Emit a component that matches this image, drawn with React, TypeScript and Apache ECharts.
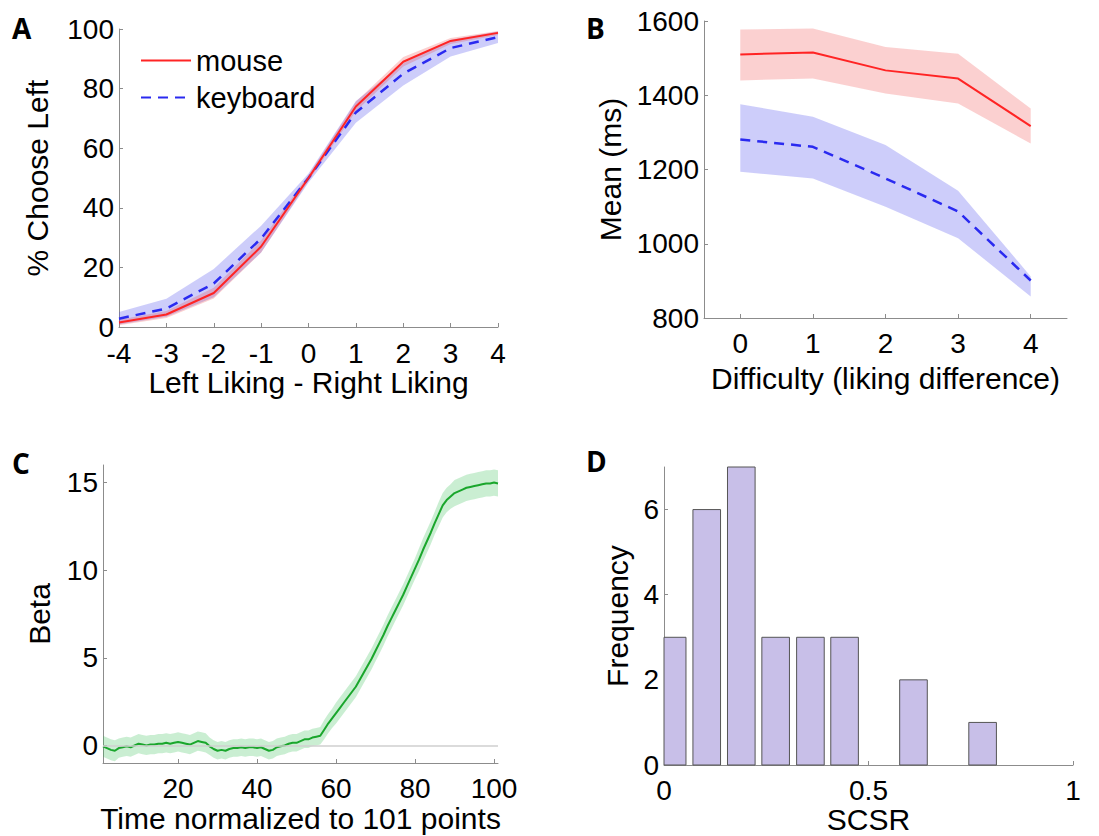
import React, { useEffect, useRef } from "react";
import * as echarts from "echarts";

// ---------- Panel A: choice curves ----------
const likingDiff = [-4, -3, -2, -1, 0, 1, 2, 3, 4];
const mouseChoice = [1.5, 4.2, 11.4, 27, 50, 74, 89, 96, 98.7];
const mouseChoiceLo = [0.6, 3.0, 9.6, 25, 49, 72.4, 87.4, 95, 98.0];
const mouseChoiceHi = [2.4, 5.4, 13.2, 29, 51, 75.6, 90.6, 97, 99.3];
const keyboardChoice = [2.8, 6.2, 14.6, 29.7, 50, 72, 85, 93.6, 97.3];
const keyboardChoiceLo = [0.8, 3.4, 10, 25, 48.5, 68.5, 81, 90.8, 95.3];
const keyboardChoiceHi = [5, 9.5, 19.5, 34, 51.5, 75.8, 88.5, 96.4, 99.2];

// ---------- Panel B: mean RT ----------
const difficulty = [0, 1, 2, 3, 4];
const mouseRT = [1510, 1515, 1467, 1445, 1317];
const mouseRTLo = [1440, 1445, 1405, 1378, 1270];
const mouseRTHi = [1577, 1580, 1530, 1512, 1364];
const keyboardRT = [1281, 1261, 1176, 1087, 901];
const keyboardRTLo = [1194, 1176, 1100, 1015, 858];
const keyboardRTHi = [1376, 1342, 1266, 1143, 912];

// ---------- Panel C: beta over normalized time ----------
const timePoints = Array.from({ length: 101 }, (_, i) => i + 1);
const betaMean = [
  -0.05, -0.15, -0.25, -0.3, -0.15, -0.1, -0.05, -0.1, 0.0, 0.1,
  0.05, 0.0, 0.05, 0.05, 0.1, 0.1, 0.15, 0.1, 0.15, 0.2,
  0.15, 0.1, 0.05, 0.15, 0.25, 0.2, 0.15, -0.05, -0.2, -0.3,
  -0.25, -0.3, -0.2, -0.15, -0.15, -0.1, -0.15, -0.1, -0.1, -0.15,
  -0.1, -0.2, -0.3, -0.25, -0.1, -0.05, 0.0, 0.1, 0.15, 0.15,
  0.25, 0.35, 0.35, 0.45, 0.5, 0.55, 0.9, 1.25, 1.55, 1.85,
  2.15, 2.45, 2.75, 3.05, 3.35, 3.75, 4.15, 4.55, 4.95, 5.4,
  5.85, 6.3, 6.8, 7.25, 7.7, 8.15, 8.6, 9.1, 9.6, 10.1,
  10.6, 11.15, 11.65, 12.15, 12.7, 13.2, 13.7, 14.0, 14.2, 14.4,
  14.5, 14.6, 14.7, 14.75, 14.8, 14.85, 14.9, 14.95, 14.95, 15.0,
  14.95,
];
const betaHalfWidth = [
  0.6, 0.6, 0.6, 0.6, 0.55, 0.55, 0.55, 0.55, 0.55, 0.55,
  0.55, 0.55, 0.55, 0.55, 0.55, 0.55, 0.55, 0.55, 0.55, 0.55,
  0.55, 0.55, 0.55, 0.55, 0.55, 0.55, 0.55, 0.5, 0.5, 0.5,
  0.5, 0.5, 0.5, 0.5, 0.5, 0.5, 0.5, 0.5, 0.5, 0.5,
  0.5, 0.5, 0.5, 0.5, 0.5, 0.5, 0.5, 0.5, 0.5, 0.5,
  0.5, 0.5, 0.5, 0.5, 0.5, 0.5, 0.55, 0.55, 0.55, 0.6,
  0.6, 0.6, 0.6, 0.6, 0.6, 0.6, 0.6, 0.6, 0.6, 0.6,
  0.6, 0.6, 0.6, 0.6, 0.6, 0.6, 0.6, 0.6, 0.6, 0.6,
  0.65, 0.65, 0.65, 0.65, 0.65, 0.7, 0.7, 0.7, 0.7, 0.75,
  0.75, 0.75, 0.75, 0.75, 0.75, 0.75, 0.75, 0.75, 0.75, 0.75,
  0.75,
];

// ---------- Panel D: SCSR histogram ----------
const scsrBinCenters = [0.02, 0.1045, 0.189, 0.273, 0.358, 0.4415, 0.526, 0.61, 0.695, 0.779];
const scsrCounts = [3, 6, 7, 3, 3, 3, 0, 2, 0, 1];
const BAR_WIDTH = 0.0675;

const FONT = '"Liberation Sans", Arial, Helvetica, sans-serif';
const AXIS_GRAY = "#8c8c8c";
const TICK_FS = 28;
const NAME_FS = 30;

function axisBase(extra: any) {
  return {
    type: "value",
    splitLine: { show: false },
    axisLine: { show: true, onZero: false, lineStyle: { color: AXIS_GRAY, width: 1 } },
    axisTick: { show: true, inside: true, length: 4, lineStyle: { color: AXIS_GRAY } },
    axisLabel: { color: "#000", fontSize: TICK_FS, fontFamily: FONT },
    nameLocation: "middle",
    nameTextStyle: { color: "#000", fontSize: NAME_FS, fontFamily: FONT },
    ...extra,
  };
}

function tickStyle(custom?: number[]) {
  const t: any = { show: true, inside: true, length: 4, lineStyle: { color: AXIS_GRAY } };
  if (custom) t.customValues = custom;
  return t;
}
function labelStyle(margin: number, custom?: number[]) {
  const l: any = {
    color: "#000",
    fontSize: TICK_FS,
    lineHeight: 22,
    fontFamily: FONT,
    margin,
    formatter: (v: number) => String(v),
  };
  if (custom) l.customValues = custom;
  return l;
}

function bandSeries(name: string, xs: number[], lo: number[], hi: number[], color: string, axis: number) {
  return {
    type: "custom",
    name,
    xAxisIndex: axis,
    yAxisIndex: axis,
    silent: true,
    data: xs.map((x, i) => [x, lo[i], hi[i]]),
    encode: { x: 0, y: [1, 2] },
    renderItem: (params: any, api: any) => {
      if (params.dataIndexInside !== 0) return null;
      const n = params.dataInsideLength;
      const top: number[][] = [];
      const bottom: number[][] = [];
      for (let i = 0; i < n; i++) {
        const x = api.value(0, i);
        top.push(api.coord([x, api.value(2, i)]));
        bottom.push(api.coord([x, api.value(1, i)]));
      }
      return {
        type: "polygon",
        shape: { points: top.concat(bottom.reverse()) },
        style: { fill: color },
      };
    },
  };
}

function lineSeries(name: string, xs: number[], ys: number[], color: string, axis: number, dashed: boolean, width = 2) {
  return {
    type: "line",
    name,
    xAxisIndex: axis,
    yAxisIndex: axis,
    data: xs.map((x, i) => [x, ys[i]]),
    symbol: "none",
    showSymbol: false,
    lineStyle: { color, width, type: dashed ? [10, 7] : "solid" },
    itemStyle: { color },
  };
}

const RED = "#ff2424";
const BLUE = "#2a2af0";
const RED_BAND = "rgba(240,60,60,0.24)";
const BLUE_BAND = "rgba(70,70,235,0.27)";
const GREEN = "#1aa62c";
const GREEN_BAND = "rgba(50,190,80,0.26)";

export default function App() {
  const ref = useRef<HTMLDivElement>(null);

  useEffect(() => {
    document.body.style.margin = "0";
    const chart = echarts.init(ref.current!, null, { renderer: "svg" });

    const betaLo = betaMean.map((m, i) => m - betaHalfWidth[i]);
    const betaHi = betaMean.map((m, i) => m + betaHalfWidth[i]);

    const option: any = {
      animation: false,
      backgroundColor: "#fff",
      textStyle: { fontFamily: FONT },
      grid: [
        { left: 119, top: 29, width: 379, height: 298 },
        { left: 704, top: 21, width: 363, height: 297 },
        { left: 103, top: 465, width: 395, height: 298 },
        { left: 664, top: 467, width: 409, height: 298 },
      ],
      xAxis: [
        axisBase({ gridIndex: 0, min: -4, max: 4, interval: 1, name: "Left Liking - Right Liking", nameGap: 40, axisTick: tickStyle(), axisLabel: labelStyle(15) }),
        axisBase({ gridIndex: 1, min: -0.5, max: 4.5, name: "Difficulty (liking difference)", nameGap: 45, axisTick: tickStyle(difficulty), axisLabel: labelStyle(14, difficulty) }),
        axisBase({ gridIndex: 2, min: 1, max: 101, name: "Time normalized to 101 points", nameGap: 40, axisTick: tickStyle([20, 40, 60, 80, 100]), axisLabel: labelStyle(14, [20, 40, 60, 80, 100]) }),
        axisBase({ gridIndex: 3, min: 0, max: 1, name: "SCSR", nameGap: 38, axisTick: tickStyle([0, 0.5, 1]), axisLabel: labelStyle(14, [0, 0.5, 1]) }),
      ],
      yAxis: [
        axisBase({ gridIndex: 0, min: 0, max: 100, interval: 20, name: "% Choose Left", nameGap: 67, axisTick: tickStyle(), axisLabel: labelStyle(5) }),
        axisBase({ gridIndex: 1, min: 800, max: 1600, interval: 200, name: "Mean (ms)", nameGap: 79, axisTick: tickStyle(), axisLabel: labelStyle(5) }),
        axisBase({ gridIndex: 2, min: -1, max: 16, name: "Beta", nameGap: 49, axisTick: tickStyle([0, 5, 10, 15]), axisLabel: labelStyle(5, [0, 5, 10, 15]) }),
        axisBase({ gridIndex: 3, min: 0, max: 7, name: "Frequency", nameGap: 32, axisTick: tickStyle([0, 2, 4, 6]), axisLabel: labelStyle(5, [0, 2, 4, 6]) }),
      ],
      legend: {
        data: ["mouse", "keyboard"],
        orient: "vertical",
        left: 135,
        top: 41,
        itemWidth: 50,
        itemHeight: 14,
        itemGap: 8,
        itemStyle: { opacity: 0 },
        textStyle: { color: "#000", fontSize: 29, fontFamily: FONT },
      },
      graphic: [
        { type: "text", left: 12, top: 14, style: { text: "A", font: 'bold 28px "Open Sans", sans-serif', fill: "#000" } },
        { type: "text", left: 586, top: 14, style: { text: "B", font: 'bold 28px "Open Sans", sans-serif', fill: "#000" } },
        { type: "text", left: 12, top: 449, style: { text: "C", font: 'bold 28px "Open Sans", sans-serif', fill: "#000" } },
        { type: "text", left: 586, top: 447, style: { text: "D", font: 'bold 28px "Open Sans", sans-serif', fill: "#000" } },
      ],
      series: [
        // A
        bandSeries("keyboard band", likingDiff, keyboardChoiceLo, keyboardChoiceHi, BLUE_BAND, 0),
        bandSeries("mouse band", likingDiff, mouseChoiceLo, mouseChoiceHi, RED_BAND, 0),
        lineSeries("keyboard", likingDiff, keyboardChoice, BLUE, 0, true, 2.5),
        lineSeries("mouse", likingDiff, mouseChoice, RED, 0, false, 2),
        // B
        bandSeries("mouse RT band", difficulty, mouseRTLo, mouseRTHi, RED_BAND, 1),
        bandSeries("keyboard RT band", difficulty, keyboardRTLo, keyboardRTHi, BLUE_BAND, 1),
        lineSeries("mouse RT", difficulty, mouseRT, RED, 1, false, 2),
        lineSeries("keyboard RT", difficulty, keyboardRT, BLUE, 1, true, 2.5),
        // C
        {
          type: "line",
          name: "zero",
          xAxisIndex: 2,
          yAxisIndex: 2,
          data: [],
          markLine: {
            silent: true,
            symbol: "none",
            label: { show: false },
            lineStyle: { color: "#cfcfcf", type: "solid", width: 1.5 },
            data: [{ yAxis: 0 }],
          },
        },
        bandSeries("beta band", timePoints, betaLo, betaHi, GREEN_BAND, 2),
        lineSeries("beta", timePoints, betaMean, GREEN, 2, false, 2),
        // D
        {
          type: "custom",
          name: "SCSR",
          xAxisIndex: 3,
          yAxisIndex: 3,
          data: scsrBinCenters.map((c, i) => [c, scsrCounts[i]]),
          encode: { x: 0, y: 1 },
          renderItem: (params: any, api: any) => {
            const c = api.value(0);
            const n = api.value(1);
            if (!n) return null;
            const tl = api.coord([c - BAR_WIDTH / 2, n]);
            const br = api.coord([c + BAR_WIDTH / 2, 0]);
            const cs = params.coordSys;
            const shape = echarts.graphic.clipRectByRect(
              { x: tl[0], y: tl[1], width: br[0] - tl[0], height: br[1] - tl[1] },
              { x: cs.x, y: cs.y, width: cs.width, height: cs.height }
            );
            if (!shape) return null;
            return {
              type: "rect",
              shape,
              style: { fill: "#c8bfe8", stroke: "#555", lineWidth: 1 },
            };
          },
        },
      ],
    };

    chart.setOption(option);
    return () => chart.dispose();
  }, []);

  return <div ref={ref} style={{ width: 1099, height: 836 }} />;
}
